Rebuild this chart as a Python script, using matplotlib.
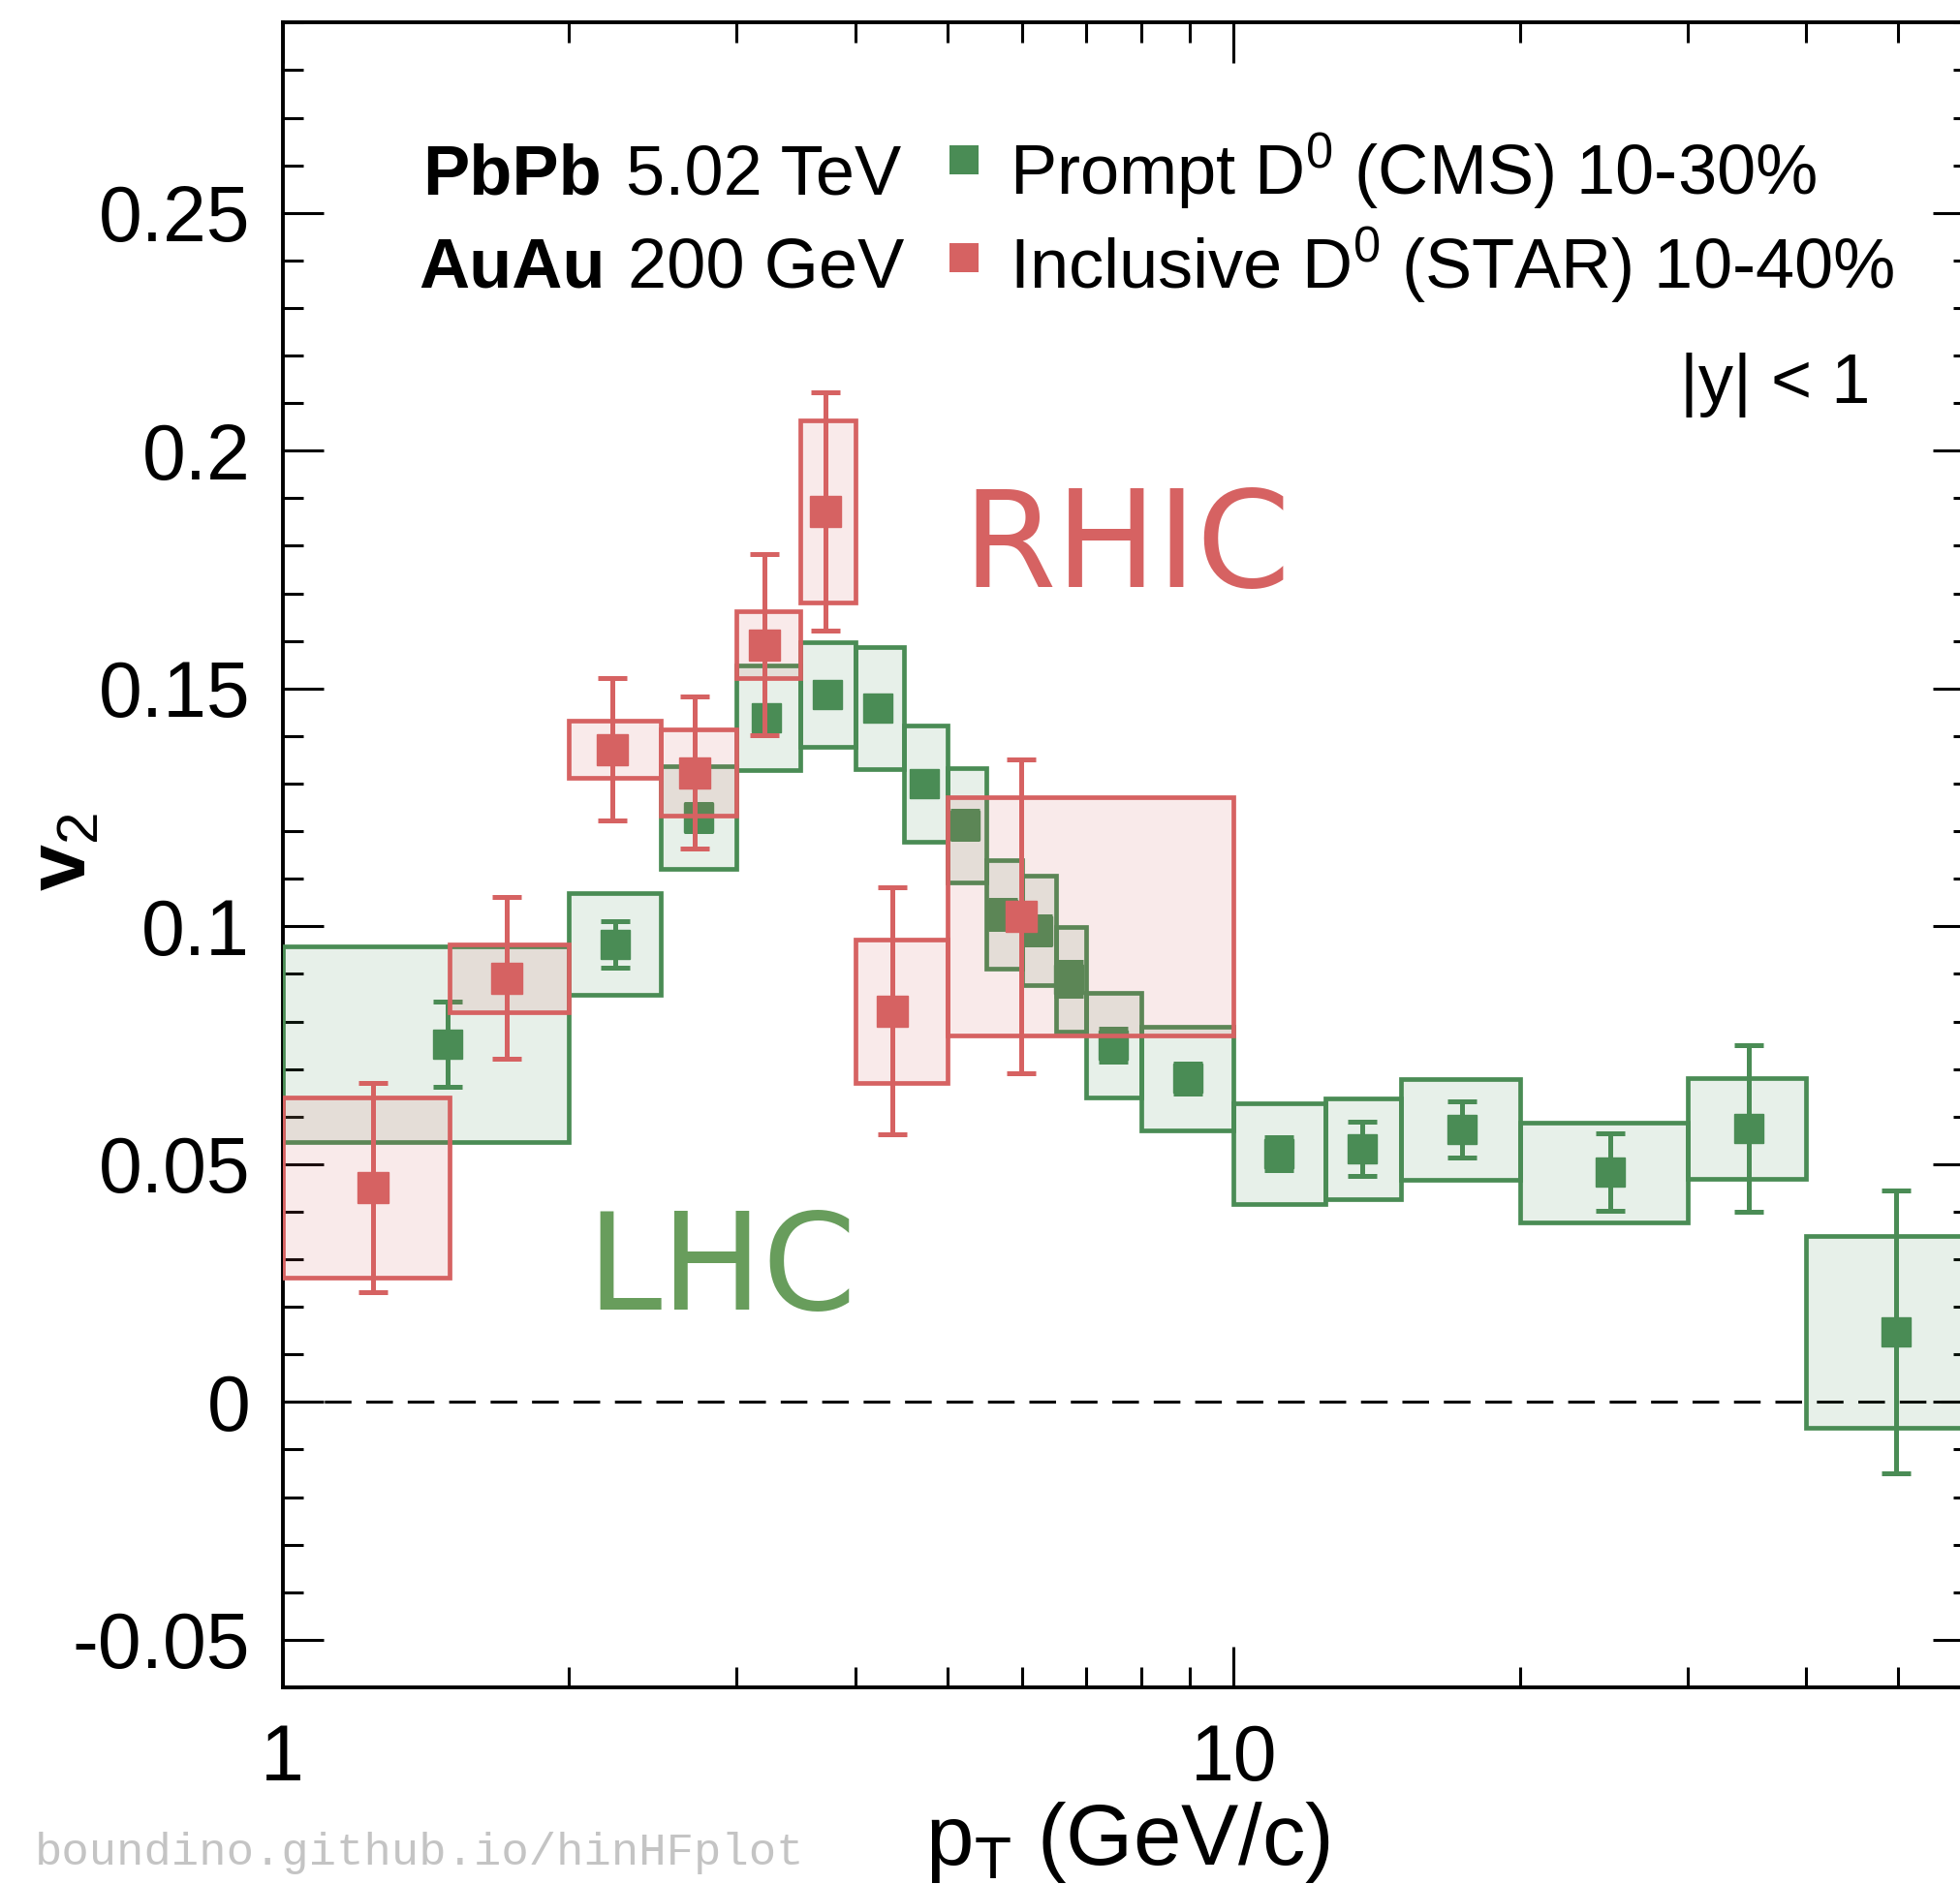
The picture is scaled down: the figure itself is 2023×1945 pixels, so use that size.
import numpy as np
import matplotlib
matplotlib.use('Agg')
import matplotlib.pyplot as plt
from matplotlib.patches import Rectangle
from matplotlib.colors import to_rgba

plt.rcParams['font.family'] = ['Liberation Sans', 'DejaVu Sans']
plt.rcParams['mathtext.fontset'] = 'custom'
plt.rcParams['mathtext.rm'] = 'Liberation Sans'
plt.rcParams['mathtext.it'] = 'Liberation Sans:italic'
plt.rcParams['mathtext.bf'] = 'Liberation Sans:bold'

# CMS prompt D0, PbPb 5.02 TeV, 10-30%
cms_lo = [1.0, 2.0, 2.5, 3.0, 3.5, 4.0, 4.5, 5.0, 5.5, 6.0, 6.5, 7.0, 8.0, 10.0, 12.5, 15.0, 20.0, 30.0, 40.0]
cms_hi = [2.0, 2.5, 3.0, 3.5, 4.0, 4.5, 5.0, 5.5, 6.0, 6.5, 7.0, 8.0, 10.0, 12.5, 15.0, 20.0, 30.0, 40.0, 60.0]
cms_pt = [1.49, 2.24, 2.74, 3.23, 3.74, 4.23, 4.73, 5.22, 5.72, 6.23, 6.71, 7.47, 8.95, 11.15, 13.66, 17.4, 24.9, 34.8, 49.7]
cms_v2 = [0.0752, 0.0962, 0.1229, 0.1439, 0.1488, 0.1459, 0.1300, 0.1213, 0.1025, 0.0991, 0.0889, 0.0750, 0.0680,
          0.0522, 0.0532, 0.0573, 0.0483, 0.0575, 0.0147]
cms_stat = [0.0090, 0.0048, 0.0028, 0.0026, 0.0026, 0.0026, 0.0026, 0.0030, 0.0030, 0.0030, 0.0036, 0.0034, 0.0031,
            0.0034, 0.0057, 0.0060, 0.0082, 0.0175, 0.0297]
cms_sys = [0.0205, 0.0107, 0.0108, 0.0110, 0.0110, 0.0128, 0.0122, 0.0120, 0.0115, 0.0115, 0.0110, 0.0110, 0.0109,
           0.0105, 0.0106, 0.0105, 0.0105, 0.0105, 0.0201]

# STAR inclusive D0, AuAu 200 GeV, 10-40%
star_lo = [1.0, 1.5, 2.0, 2.5, 3.0, 3.5, 4.0, 5.0]
star_hi = [1.5, 2.0, 2.5, 3.0, 3.5, 4.0, 5.0, 10.0]
star_pt = [1.246, 1.72, 2.22, 2.71, 3.21, 3.72, 4.38, 5.98]
star_v2 = [0.0451, 0.0891, 0.1372, 0.1323, 0.1592, 0.1872, 0.0822, 0.1021]
star_stat = [0.0220, 0.0170, 0.0150, 0.0160, 0.0190, 0.0250, 0.0260, 0.0330]
star_sys = [0.0190, 0.0071, 0.0060, 0.0091, 0.0070, 0.0192, 0.0151, 0.0250]

green = '#4a8c55'
red = '#d66262'

fig = plt.figure(figsize=(20.23, 19.45), dpi=100)
ax = fig.add_axes([0.1441, 0.1044, 0.8629, 0.8836])
ax.set_xscale('log')
ax.set_xlim(1, 60)
ax.set_ylim(-0.06, 0.29)

ax.axhline(0, color='black', lw=2.2, ls=(0, (9, 5)), zorder=2.5)


def draw_set(lo, hi, pt, v2, stat, sys, col, z, ms):
    for i in range(len(pt)):
        ax.add_patch(Rectangle((lo[i], v2[i] - sys[i]), hi[i] - lo[i], 2 * sys[i],
                               facecolor=to_rgba(col, 0.13), edgecolor=col, lw=3.4, zorder=z))
    ax.errorbar(pt, v2, yerr=stat, fmt='s', color=col, ms=ms, elinewidth=3.6,
                capsize=10.5, capthick=3.6, zorder=z + 0.5)


draw_set(cms_lo, cms_hi, cms_pt, cms_v2, cms_stat, cms_sys, green, 3, 21)
draw_set(star_lo, star_hi, star_pt, star_v2, star_stat, star_sys, red, 5, 23)

# axes & ticks
ax.set_xticks([1, 10])
ax.set_xticklabels(['1', '10'])
ax.set_xticks([2, 3, 4, 5, 6, 7, 8, 9, 20, 30, 40, 50], minor=True)
ax.set_xticklabels([], minor=True)
yt = [-0.05, 0, 0.05, 0.1, 0.15, 0.2, 0.25]
ax.set_yticks(yt)
ax.set_yticklabels(['-0.05', '0', '0.05', '0.1', '0.15', '0.2', '0.25'])
ax.set_yticks(np.arange(-0.06, 0.2901, 0.01), minor=True)
ax.tick_params(which='both', direction='in', top=True, right=True, width=2.2, labelsize=58)
ax.tick_params(which='major', length=30)
ax.tick_params(which='minor', length=15)
ax.tick_params(axis='y', pad=24)
ax.tick_params(axis='x', pad=27)
for s in ax.spines.values():
    s.set_linewidth(2.8)

ax.set_xlabel(r'p$_{\rm T}$ (GeV/c)', fontsize=64, labelpad=2)
fig.text(0.0330, 0.548, r'v$_{\rm 2}$', rotation=90, fontsize=62, fontweight='bold',
         ha='center', va='center')

# legend block
ax.text(0.0827, 0.8971, 'PbPb', transform=ax.transAxes, fontsize=52, fontweight='bold')
ax.text(0.2032, 0.8971, '5.02 TeV', transform=ax.transAxes, fontsize=52)
ax.text(0.0806, 0.8409, 'AuAu', transform=ax.transAxes, fontsize=52, fontweight='bold')
ax.text(0.2040, 0.8409, '200 GeV', transform=ax.transAxes, fontsize=52)
ax.plot([0.4028], [0.9175], 's', color=green, ms=21, mew=0, transform=ax.transAxes, clip_on=False)
ax.plot([0.4028], [0.8589], 's', color=red, ms=21, mew=0, transform=ax.transAxes, clip_on=False)
ax.text(0.4302, 0.8971, r'Prompt D$^{\rm 0}$ (CMS) 10-30%', transform=ax.transAxes, fontsize=52)
ax.text(0.4302, 0.8409, r'Inclusive D$^{\rm 0}$ (STAR) 10-40%', transform=ax.transAxes, fontsize=52)
ax.text(0.939, 0.7718, '|y| < 1', transform=ax.transAxes, fontsize=52, ha='right')

# hand-written labels
ax.text(0.4019, 0.661, 'RHIC', transform=ax.transAxes, fontsize=100, color=red,
        family='DejaVu Sans')
ax.text(0.18, 0.2269, 'LHC', transform=ax.transAxes, fontsize=100, color='#689d5c',
        family='DejaVu Sans')

fig.text(0.0178, 0.0164, 'boundino.github.io/hinHFplot', family='Liberation Mono', fontsize=34,
         color='#c4c4c4', va='center')

fig.savefig('out.png', dpi=100)
